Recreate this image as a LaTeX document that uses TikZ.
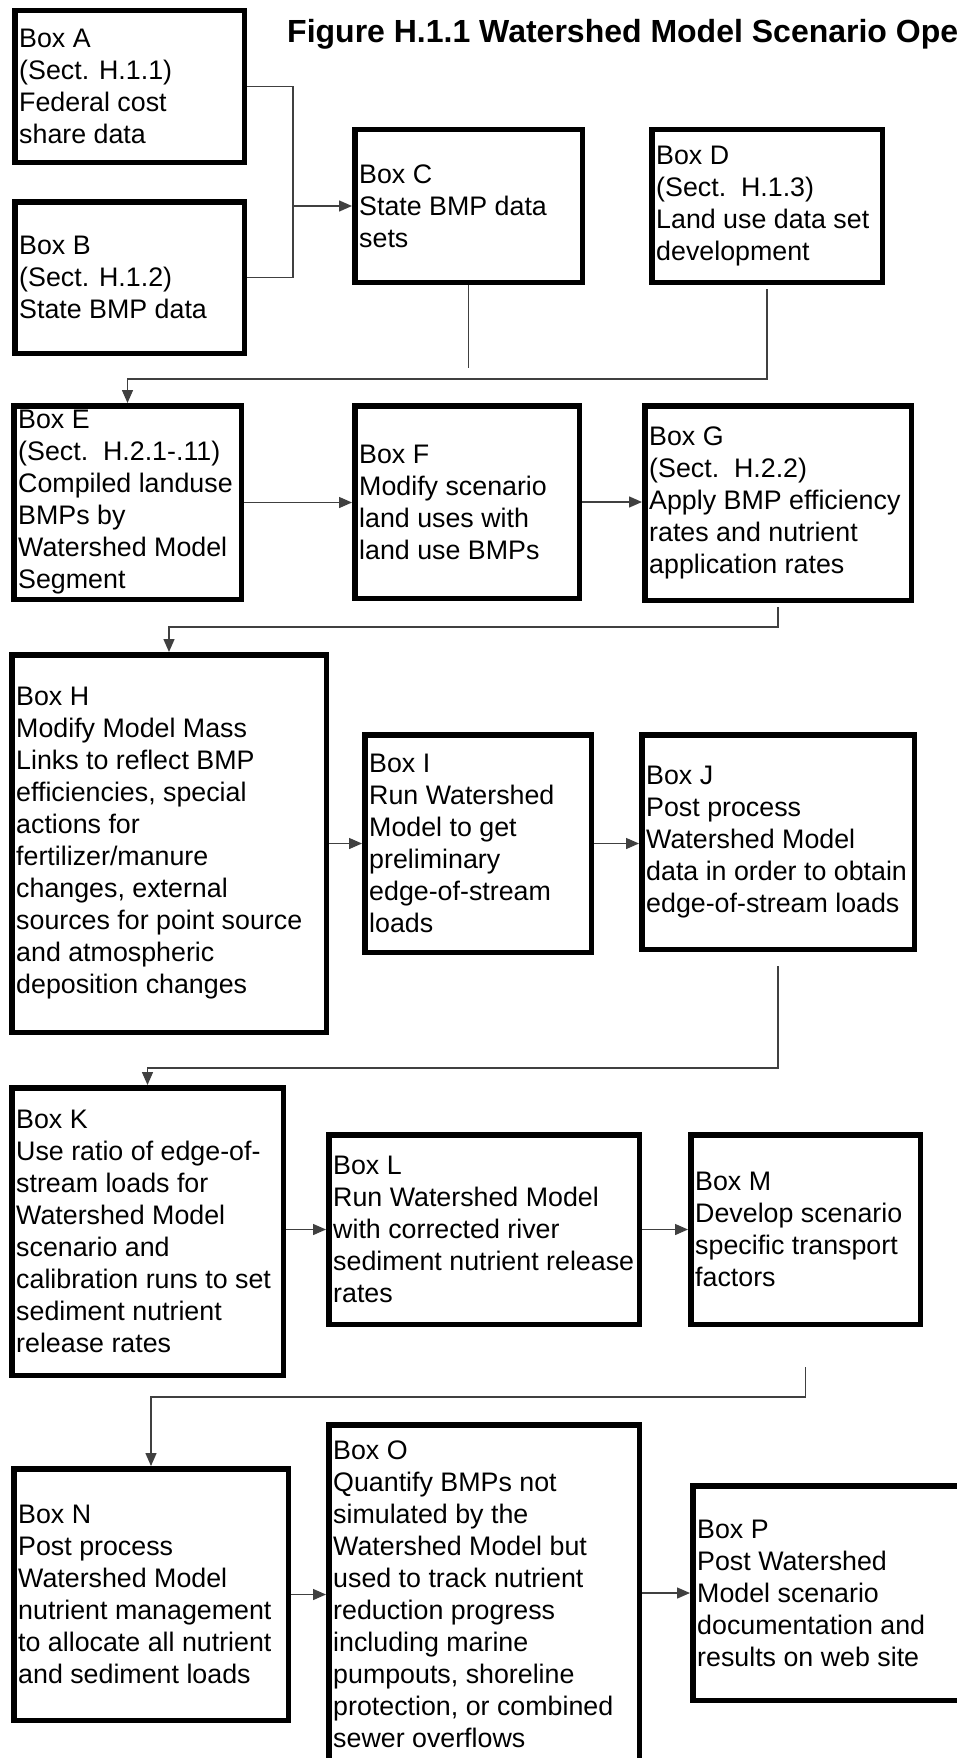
\documentclass[tikz,border=0pt]{standalone}
\usepackage{fontspec}
\setmainfont{Liberation Sans}
\usetikzlibrary{arrows.meta}

% box outline width and text offset from the outer left edge (pt = px)
\def\boxlw{5.5}
\def\textoff{7}

\tikzset{
  procbox/.style={draw=black, line width=\boxlw pt, inner sep=0pt, anchor=center},
  boxtext/.style={inner sep=0pt, align=left, anchor=west,
    font=\fontsize{26.8}{32}\selectfont},
  link/.style={line width=1.4pt, draw=black!75},
  flow/.style={link, -{Triangle[length=13pt,width=11pt]}},
}

% #1 name, (#2,#3) top-left and (#4,#5) bottom-right outer corners, #6 text
\newcommand\procnode[6]{%
  \pgfmathsetmacro\pw{#4-#2-\boxlw}%
  \pgfmathsetmacro\ph{#5-#3-\boxlw}%
  \node[procbox, minimum width=\pw pt, minimum height=\ph pt]
    (#1) at ({(#2+#4)/2},{(#3+#5)/2}) {};
  \node[boxtext] (#1-text) at ([xshift=\textoff pt]#1.west) {#6};}

\begin{document}
\begin{tikzpicture}[x=1pt, y=-1pt]
\useasboundingbox (0,0) rectangle (957,1758);
\fill[white] (0,0) rectangle (957,1758);
\clip (0,0) rectangle (957,1758);

\node[anchor=base west, inner sep=0pt, font=\bfseries\fontsize{32}{38}\selectfont] (title)
  at (287,43) {Figure H.1.1 Watershed Model Scenario Ope};

% row 1
\procnode{A}{12}{8}{247}{165}{Box A\\(Sect. H.1.1)\\Federal cost\\share data}
\procnode{B}{12}{199}{247}{356}{Box B\\(Sect. H.1.2)\\State BMP data}
\procnode{C}{352}{127}{585}{285}{Box C\\State BMP data\\sets}
\procnode{D}{649}{127}{885}{285}{Box D\\(Sect.\ \ H.1.3)\\Land use data set\\development}

% row 2
\procnode{E}{11}{403}{244}{602}{Box E\\(Sect.\ \ H.2.1-.11)\\Compiled landuse\\BMPs by\\Watershed Model\\Segment}
\procnode{F}{352}{403}{582}{601}{Box F\\Modify scenario\\land uses with\\land use BMPs}
\procnode{G}{642}{403}{914}{603}{Box G\\(Sect.\ \ H.2.2)\\Apply BMP efficiency\\rates and nutrient\\application rates}

% row 3
\procnode{H}{9}{652}{329}{1035}{Box H\\Modify Model Mass\\Links to reflect BMP\\efficiencies, special\\actions for\\fertilizer/manure\\changes, external\\sources for point source\\and atmospheric\\deposition changes}
\procnode{I}{362}{732}{594}{955}{Box I\\Run Watershed\\Model to get\\preliminary\\edge-of-stream\\loads}
\procnode{J}{639}{732}{917}{952}{Box J\\Post process\\Watershed Model\\data in order to obtain\\edge-of-stream loads}

% row 4
\procnode{K}{9}{1085}{286}{1378}{Box K\\Use ratio of edge-of-\\stream loads for\\Watershed Model\\scenario and\\calibration runs to set\\sediment nutrient\\release rates}
\procnode{L}{326}{1132}{642}{1327}{Box L\\Run Watershed Model\\with corrected river\\sediment nutrient release\\rates}
\procnode{M}{688}{1132}{923}{1327}{Box M\\Develop scenario\\specific transport\\factors}

% row 5
\procnode{N}{11}{1466}{291}{1723}{Box N\\Post process\\Watershed Model\\nutrient management\\to allocate all nutrient\\and sediment loads}
\procnode{O}{326}{1422}{642}{1766}{Box O\\Quantify BMPs not\\simulated by the\\Watershed Model but\\used to track nutrient\\reduction progress\\including marine\\pumpouts, shoreline\\protection, or combined\\sewer overflows}
\procnode{P}{690}{1483}{985}{1703}{Box P\\Post Watershed\\Model scenario\\documentation and\\results on web site}

% A and B merge into C
\coordinate (jAB) at (293,0);
\draw[link] (A.east) -- (A.east -| jAB) -- (B.east -| jAB) -- (B.east);
\draw[flow] (C.west -| jAB) -- (C.west);

% C and D feed E
\coordinate (busE) at (0,379);
\draw[link, shorten >=11pt] (C.south) -- (C.south |- busE);
\draw[flow, shorten <=4pt] (D.south) -- (D.south |- busE) -| (E.north);
\draw[flow] (E.east) -- (E.east -| F.west);
\draw[flow] (F.east) -- (F.east -| G.west);

% G to H
\coordinate (busH) at (0,627);
\draw[flow, shorten <=4pt] (G.south) -- (G.south |- busH) -| (H.north);
\draw[flow] (I.west -| H.east) -- (I.west);
\draw[flow] (I.east) -- (I.east -| J.west);

% J to K
\coordinate (busK) at (0,1068);
\draw[flow, shorten <=14pt] (J.south) -- (J.south |- busK) -| (K.north);
\draw[flow] (L.west -| K.east) -- (L.west);
\draw[flow] (L.east) -- (L.east -| M.west);

% M to N
\coordinate (busN) at (0,1397);
\draw[flow, shorten <=40pt] (M.south) -- (M.south |- busN) -| (N.north);
\draw[flow] (N.east) -- (N.east -| O.west);
\draw[flow] (P.west -| O.east) -- (P.west);
\end{tikzpicture}
\end{document}
